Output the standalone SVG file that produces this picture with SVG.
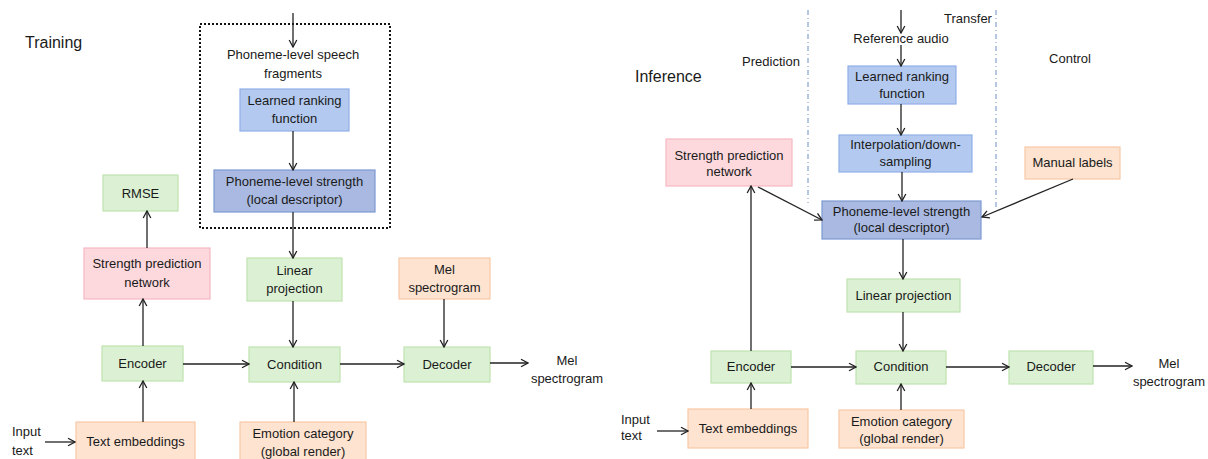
<svg xmlns="http://www.w3.org/2000/svg" width="1208" height="459" viewBox="0 0 1208 459">
  <defs>
    <marker id="arrow" viewBox="0 0 10 10" refX="9" refY="5" markerWidth="10" markerHeight="10" markerUnits="userSpaceOnUse" orient="auto">
      <path d="M2,1.2 L9,5 L2,8.8" fill="none" stroke="#222" stroke-width="1.3"/>
    </marker>
    <style>
      text { font-family: "Liberation Sans", Arial, sans-serif; font-size: 13px; fill: #1a1a1a; text-anchor: middle; }
      .title { font-size: 16px; text-anchor: start; }
      .left { text-anchor: start; }
      .green { fill: #dcf1d4; stroke: #bfe3ae; stroke-width: 1.2; }
      .pink { fill: #fdd9de; stroke: #f6b8c2; stroke-width: 1.2; }
      .orange { fill: #fde3d0; stroke: #f8c9a6; stroke-width: 1.2; }
      .blue { fill: #b3c9ef; stroke: #8fb0e6; stroke-width: 1.2; }
      .dblue { fill: #a9b9e1; stroke: #7e98d0; stroke-width: 1.2; }
      .edge { fill: none; stroke: #222; stroke-width: 1.3; marker-end: url(#arrow); }
      .divider { fill: none; stroke: #6c8ebf; stroke-width: 1; stroke-dasharray: 5 3 1 3; }
    </style>
  </defs>
  <rect width="1208" height="459" fill="#ffffff"/>

  <!-- ===== Training ===== -->
  <text class="title" x="25" y="48">Training</text>

  <!-- dotted frame around the ranking stage -->
  <rect id="train-frame" x="200" y="24" width="190" height="204" fill="none" stroke="#111" stroke-width="2" stroke-dasharray="2 2"/>

  <g id="t-fragments">
    <text x="293" y="59">Phoneme-level speech</text>
    <text x="293" y="78">fragments</text>
  </g>
  <g id="t-ranking">
    <rect class="blue" x="240" y="89" width="109" height="42"/>
    <text x="294.5" y="105">Learned ranking</text>
    <text x="294.5" y="123">function</text>
  </g>
  <g id="t-strength">
    <rect class="dblue" x="214" y="170" width="161" height="42"/>
    <text x="294.5" y="186">Phoneme-level strength</text>
    <text x="294.5" y="204">(local descriptor)</text>
  </g>
  <g id="t-rmse">
    <rect class="green" x="103" y="175" width="75" height="36"/>
    <text x="140.5" y="198">RMSE</text>
  </g>
  <g id="t-spn">
    <rect class="pink" x="84" y="248" width="126" height="51"/>
    <text x="147" y="268">Strength prediction</text>
    <text x="147" y="287">network</text>
  </g>
  <g id="t-linear">
    <rect class="green" x="247" y="258" width="95" height="43"/>
    <text x="294.5" y="275">Linear</text>
    <text x="294.5" y="293">projection</text>
  </g>
  <g id="t-mel-in">
    <rect class="orange" x="399" y="258" width="91" height="41"/>
    <text x="444.5" y="274">Mel</text>
    <text x="444.5" y="292">spectrogram</text>
  </g>
  <g id="t-encoder">
    <rect class="green" x="102" y="346" width="81" height="35"/>
    <text x="142.5" y="368">Encoder</text>
  </g>
  <g id="t-condition">
    <rect class="green" x="249" y="347" width="91" height="35"/>
    <text x="294.5" y="369">Condition</text>
  </g>
  <g id="t-decoder">
    <rect class="green" x="404" y="347" width="86" height="35"/>
    <text x="447" y="369">Decoder</text>
  </g>
  <g id="t-mel-out">
    <text x="567" y="365">Mel</text>
    <text x="567" y="383">spectrogram</text>
  </g>
  <g id="t-text-emb">
    <rect class="orange" x="76" y="422" width="119" height="44"/>
    <text x="135.5" y="446">Text embeddings</text>
  </g>
  <g id="t-emotion">
    <rect class="orange" x="240" y="422" width="126" height="44"/>
    <text x="303" y="438">Emotion category</text>
    <text x="303" y="456">(global render)</text>
  </g>
  <g id="t-input">
    <text class="left" x="12" y="436">Input</text>
    <text class="left" x="12" y="455">text</text>
  </g>

  <!-- ===== Inference ===== -->
  <text class="title" x="635" y="82">Inference</text>

  <g id="i-dividers">
    <line class="divider" x1="808" y1="10" x2="808" y2="203"/>
    <line class="divider" x1="996" y1="10" x2="996" y2="207"/>
  </g>
  <g id="i-section-labels">
    <text x="771" y="66">Prediction</text>
    <text x="968" y="23">Transfer</text>
    <text x="1070" y="63">Control</text>
  </g>

  <g id="i-ref-audio">
    <text x="901" y="43">Reference audio</text>
  </g>
  <g id="i-ranking">
    <rect class="blue" x="848" y="66" width="108" height="38"/>
    <text x="902" y="81">Learned ranking</text>
    <text x="902" y="98">function</text>
  </g>
  <g id="i-interp">
    <rect class="blue" x="839" y="135" width="133" height="37"/>
    <text x="905.5" y="149">Interpolation/down-</text>
    <text x="905.5" y="166">sampling</text>
  </g>
  <g id="i-spn">
    <rect class="pink" x="666" y="139" width="126" height="47"/>
    <text x="729" y="160">Strength prediction</text>
    <text x="729" y="176">network</text>
  </g>
  <g id="i-manual">
    <rect class="orange" x="1025" y="147" width="95" height="32"/>
    <text x="1072.5" y="167">Manual labels</text>
  </g>
  <g id="i-strength">
    <rect class="dblue" x="822" y="201" width="159" height="38"/>
    <text x="901.5" y="216">Phoneme-level strength</text>
    <text x="901.5" y="232">(local descriptor)</text>
  </g>
  <g id="i-linear">
    <rect class="green" x="847" y="279" width="113" height="33"/>
    <text x="903.5" y="300">Linear projection</text>
  </g>
  <g id="i-encoder">
    <rect class="green" x="711" y="351" width="80" height="32"/>
    <text x="751" y="371">Encoder</text>
  </g>
  <g id="i-condition">
    <rect class="green" x="856" y="351" width="90" height="33"/>
    <text x="901" y="371">Condition</text>
  </g>
  <g id="i-decoder">
    <rect class="green" x="1009" y="351" width="84" height="33"/>
    <text x="1051" y="371">Decoder</text>
  </g>
  <g id="i-mel-out">
    <text x="1169" y="368">Mel</text>
    <text x="1169" y="386">spectrogram</text>
  </g>
  <g id="i-text-emb">
    <rect class="orange" x="688" y="409" width="120" height="39"/>
    <text x="748" y="433">Text embeddings</text>
  </g>
  <g id="i-emotion">
    <rect class="orange" x="839" y="410" width="125" height="38"/>
    <text x="901.5" y="426">Emotion category</text>
    <text x="901.5" y="443">(global render)</text>
  </g>
  <g id="i-input">
    <text class="left" x="621" y="424">Input</text>
    <text class="left" x="621" y="440">text</text>
  </g>

  <!-- ===== connectors ===== -->
  <g id="connectors">
    <!-- training -->
    <line class="edge" x1="293" y1="13" x2="293" y2="47"/>
    <line class="edge" x1="293" y1="131" x2="293" y2="170"/>
    <line class="edge" x1="293" y1="212" x2="293" y2="258"/>
    <line class="edge" x1="293" y1="301" x2="293" y2="347"/>
    <line class="edge" x1="147" y1="248" x2="147" y2="211"/>
    <line class="edge" x1="143" y1="346" x2="143" y2="299"/>
    <line class="edge" x1="143" y1="422" x2="143" y2="381"/>
    <line class="edge" x1="45" y1="442" x2="75" y2="442"/>
    <line class="edge" x1="294" y1="422" x2="294" y2="382"/>
    <line class="edge" x1="183" y1="364" x2="249" y2="364"/>
    <line class="edge" x1="340" y1="364" x2="404" y2="364"/>
    <line class="edge" x1="444" y1="299" x2="444" y2="347"/>
    <line class="edge" x1="490" y1="363" x2="528" y2="363"/>

    <!-- inference -->
    <line class="edge" x1="901" y1="10" x2="901" y2="33"/>
    <line class="edge" x1="901" y1="45" x2="901" y2="66"/>
    <line class="edge" x1="901" y1="104" x2="901" y2="135"/>
    <line class="edge" x1="902" y1="172" x2="902" y2="201"/>
    <line class="edge" x1="758" y1="187" x2="822" y2="220"/>
    <line class="edge" x1="1073" y1="179" x2="982" y2="217"/>
    <line class="edge" x1="903" y1="239" x2="903" y2="279"/>
    <line class="edge" x1="903" y1="312" x2="903" y2="351"/>
    <line class="edge" x1="751" y1="351" x2="751" y2="186"/>
    <line class="edge" x1="751" y1="409" x2="751" y2="383"/>
    <line class="edge" x1="657" y1="431" x2="688" y2="431"/>
    <line class="edge" x1="901" y1="410" x2="901" y2="384"/>
    <line class="edge" x1="791" y1="367" x2="856" y2="367"/>
    <line class="edge" x1="946" y1="367" x2="1009" y2="367"/>
    <line class="edge" x1="1093" y1="366" x2="1132" y2="366"/>
  </g>
</svg>
